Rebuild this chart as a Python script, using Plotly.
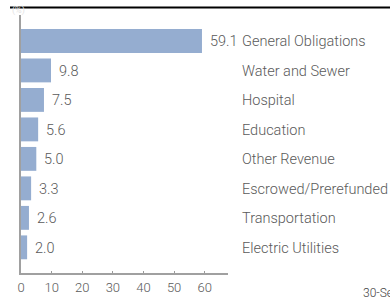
import plotly.graph_objects as go

categories = ["General Obligations", "Water and Sewer", "Hospital", "Education",
              "Other Revenue", "Escrowed/Prerefunded", "Transportation", "Electric Utilities"]
values = [59.1, 9.8, 7.5, 5.6, 5.0, 3.3, 2.6, 2.0]
value_labels = ["59.1", "9.8", "7.5", "5.6", "5.0", "3.3", "2.6", "2.0"]
x_ticks = [0, 10, 20, 30, 40, 50, 60]

FONT = "Roboto, Liberation Sans, sans-serif"
GRAY = "#5a5a5a"

W, H = 390, 300
ML, MR, MT, MB = 21, 162, 15, 27
PW = W - ML - MR
PH = H - MT - MB

def px_x(px):
    return (px - ML) / PW

def px_y(py):
    return 1 - (py - MT) / PH

fig = go.Figure()
fig.add_trace(go.Bar(
    y=categories, x=values, orientation="h",
    marker=dict(color="#95add0", line=dict(width=0)),
    width=0.81, hoverinfo="skip",
))

annotations = []
for c, v, lab in zip(categories, values, value_labels):
    annotations.append(dict(x=v, y=c, xref="x", yref="y", text=lab, showarrow=False,
                            xanchor="left", xshift=6, yshift=-1,
                            font=dict(family=FONT, size=14.5, color=GRAY, weight=300)))
    annotations.append(dict(x=px_x(240), y=c, xref="paper", yref="y", text=c, showarrow=False,
                            xanchor="left", yshift=-1,
                            font=dict(family=FONT, size=14.5, color=GRAY, weight=300)))

annotations.append(dict(x=px_x(361), y=px_y(293), xref="paper", yref="paper", text="30-Sep-2015",
                        showarrow=False, xanchor="left", yanchor="middle",
                        font=dict(family=FONT, size=12, color="#444", weight=300)))
annotations.append(dict(x=px_x(10), y=px_y(11), xref="paper", yref="paper", text="(%)",
                        showarrow=False, xanchor="left", yanchor="middle",
                        font=dict(family=FONT, size=9, color="#e4e4e4")))

fig.update_layout(
    template="none",
    width=W, height=H,
    margin=dict(l=ML, r=MR, t=MT, b=MB, pad=0, autoexpand=False),
    paper_bgcolor="white", plot_bgcolor="white",
    showlegend=False,
    xaxis=dict(range=[0, 67.6], tickvals=x_ticks, ticks="inside", ticklen=2, tickcolor="#999",
               automargin=False, ticklabelstandoff=1,
               showgrid=False, zeroline=False, showline=True, linecolor="#a0a0a0", linewidth=2,
               tickfont=dict(family=FONT, size=13, color=GRAY, weight=300), fixedrange=True),
    yaxis=dict(categoryorder="array", categoryarray=categories, range=[7.87, -0.88],
               automargin=False,
               showticklabels=False, ticks="", showgrid=False, zeroline=False,
               showline=True, linecolor="#a0a0a0", linewidth=2, fixedrange=True),
    annotations=annotations,
    shapes=[dict(type="line", xref="paper", yref="paper", x0=px_x(10), x1=px_x(392),
                 y0=px_y(7.5), y1=px_y(7.5), line=dict(color="black", width=2), layer="above")],
)

fig.write_html("out.html", config={"displayModeBar": False},
               post_script="document.body.style.margin='0';document.body.style.padding='0';"
                           "document.body.style.overflow='hidden';")
